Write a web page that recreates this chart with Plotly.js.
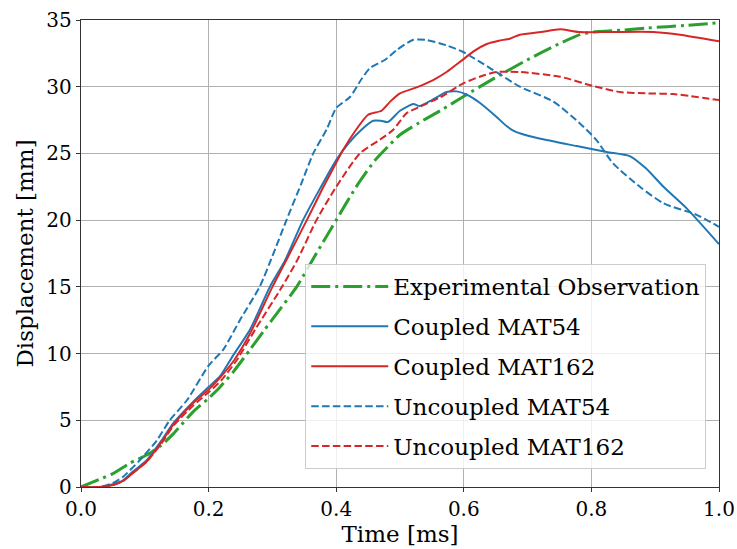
<!DOCTYPE html>
<html>
<head>
<meta charset="utf-8">
<script src="https://cdn.plot.ly/plotly-3.0.1.min.js"></script>
<style>html,body{margin:0;padding:0;background:#fff}#chart{width:737px;height:549px}</style>
</head>
<body>
<div id="chart"></div>
<script>
// Experimental Observation
const expT = [0, 0.03, 0.05, 0.077, 0.103, 0.125, 0.145, 0.176, 0.2, 0.218, 0.239, 0.265, 0.288, 0.31, 0.338, 0.37, 0.4, 0.43, 0.461, 0.485, 0.5, 0.53, 0.563, 0.599, 0.65, 0.699, 0.74, 0.782, 0.803, 0.85, 0.887, 0.95, 1.0];
const expY = [0, 0.6, 1.0, 1.8, 2.4, 3.1, 4.0, 5.65, 6.65, 7.5, 8.65, 10.3, 11.8, 13.2, 15.0, 17.6, 20.0, 22.4, 24.5, 25.7, 26.4, 27.3, 28.2, 29.25, 30.7, 32.0, 33.0, 33.9, 34.1, 34.25, 34.4, 34.6, 34.8];
// Coupled MAT54
const c54T = [0, 0.03, 0.05, 0.066, 0.08, 0.103, 0.125, 0.145, 0.176, 0.2, 0.218, 0.239, 0.265, 0.296, 0.32, 0.348, 0.375, 0.4, 0.42, 0.44, 0.458, 0.47, 0.481, 0.5, 0.521, 0.531, 0.55, 0.573, 0.589, 0.605, 0.625, 0.651, 0.667, 0.68, 0.695, 0.73, 0.777, 0.824, 0.86, 0.885, 0.913, 0.949, 1.0];
const c54Y = [0, 0, 0.2, 0.5, 1.1, 2.0, 3.4, 4.8, 6.4, 7.5, 8.3, 9.9, 11.8, 15.0, 17.0, 20.0, 22.4, 24.5, 25.8, 26.8, 27.45, 27.45, 27.35, 28.2, 28.7, 28.55, 29.0, 29.6, 29.65, 29.4, 28.8, 27.75, 27.05, 26.65, 26.4, 26.0, 25.55, 25.1, 24.8, 23.9, 22.5, 20.9, 18.2];
// Coupled MAT162
const c162T = [0, 0.03, 0.05, 0.066, 0.08, 0.103, 0.125, 0.145, 0.176, 0.2, 0.218, 0.24, 0.265, 0.3, 0.325, 0.354, 0.38, 0.4, 0.41, 0.43, 0.45, 0.471, 0.485, 0.5, 0.526, 0.552, 0.573, 0.599, 0.617, 0.636, 0.655, 0.672, 0.688, 0.721, 0.751, 0.78, 0.832, 0.897, 0.939, 1.0];
const c162Y = [0, 0, 0.15, 0.45, 1.0, 1.9, 3.3, 4.7, 6.3, 7.3, 8.2, 9.5, 11.5, 15.0, 17.3, 20.0, 22.5, 24.3, 25.2, 26.7, 27.9, 28.2, 28.9, 29.5, 29.95, 30.5, 31.1, 32.05, 32.7, 33.2, 33.45, 33.6, 33.9, 34.1, 34.3, 34.1, 34.1, 34.1, 33.9, 33.4];
// Uncoupled MAT54
const u54T = [0, 0.03, 0.05, 0.066, 0.092, 0.119, 0.139, 0.166, 0.2, 0.223, 0.249, 0.28, 0.3, 0.322, 0.345, 0.364, 0.385, 0.4, 0.422, 0.44, 0.453, 0.476, 0.495, 0.52, 0.542, 0.573, 0.599, 0.641, 0.688, 0.74, 0.782, 0.808, 0.834, 0.876, 0.913, 0.965, 1.0];
const u54Y = [0, 0, 0.3, 0.77, 2.0, 3.5, 5.0, 6.5, 9.1, 10.3, 12.5, 15.0, 17.3, 20.0, 22.7, 25.0, 26.8, 28.4, 29.25, 30.6, 31.4, 32.0, 32.75, 33.5, 33.5, 33.1, 32.6, 31.4, 30.0, 28.9, 27.25, 26.0, 24.25, 22.5, 21.26, 20.4, 19.5];
// Uncoupled MAT162
const u162T = [0, 0.03, 0.05, 0.066, 0.08, 0.103, 0.125, 0.145, 0.176, 0.2, 0.22, 0.244, 0.273, 0.315, 0.34, 0.369, 0.4, 0.437, 0.469, 0.489, 0.51, 0.531, 0.563, 0.599, 0.625, 0.651, 0.688, 0.751, 0.803, 0.845, 0.887, 0.928, 1.0];
const u162Y = [0, 0, 0.15, 0.45, 1.0, 1.9, 3.2, 4.6, 6.1, 7.1, 8.0, 9.5, 11.8, 15.0, 17.1, 20.0, 22.5, 25.0, 26.05, 26.75, 28.0, 28.5, 29.2, 30.25, 30.75, 31.1, 31.1, 30.75, 30.05, 29.6, 29.5, 29.45, 29.0];

const seriesNames = ['Experimental Observation', 'Coupled MAT54', 'Coupled MAT162', 'Uncoupled MAT54', 'Uncoupled MAT162'];
const xTickVals = [0, 0.2, 0.4, 0.6, 0.8, 1.0];
const yTickVals = [0, 5, 10, 15, 20, 25, 30, 35];

const FONT = 'DejaVu Serif, Liberation Serif, serif';
const blue = '#1f77b4', red = '#d62728', green = '#2ca02c';

function tr(x, y, name, color, width, dash, i) {
  return {x: x, y: y, name: name, type: 'scatter', mode: 'lines',
    line: {color: color, width: width, dash: dash, shape: 'spline', smoothing: 0.6},
    legendgroup: 'g' + i, hoverinfo: 'skip'};
}

const data = [
  tr(expT, expY, seriesNames[0], green, 3, '19px,5px,3px,5px', 0),
  tr(c54T, c54Y, seriesNames[1], blue, 2, 'solid', 1),
  tr(c162T, c162Y, seriesNames[2], red, 2, 'solid', 2),
  tr(u54T, u54Y, seriesNames[3], blue, 2, '7.5px,3.3px', 3),
  tr(u162T, u162Y, seriesNames[4], red, 2, '7.5px,3.3px', 4)
];

const axisCommon = {
  showgrid: true, gridcolor: '#b0b0b0', gridwidth: 1,
  showline: true, mirror: true, linecolor: '#333', linewidth: 1.2,
  ticks: 'outside', ticklen: 4, tickcolor: '#333', tickwidth: 1,
  zeroline: false, tickfont: {family: FONT, size: 20, color: '#000'}
};

const layout = {
  width: 737, height: 549,
  margin: {l: 81, r: 18, t: 20, b: 62, pad: 0},
  paper_bgcolor: '#fff', plot_bgcolor: '#fff',
  font: {family: FONT, color: '#000'},
  xaxis: Object.assign({}, axisCommon, {
    range: [0, 1], tickvals: xTickVals, ticktext: xTickVals.map(v => v.toFixed(1)),
    title: {text: 'Time [ms]', font: {family: FONT, size: 23, color: '#000'}, standoff: 4}
  }),
  yaxis: Object.assign({}, axisCommon, {
    range: [0, 35], tickvals: yTickVals, ticktext: yTickVals.map(String),
    title: {text: 'Displacement [mm]', font: {family: FONT, size: 23, color: '#000'}, standoff: 6}
  }),
  showlegend: true,
  legend: {
    x: 0.98, xanchor: 'right', y: 0.4775, yanchor: 'top',
    bgcolor: 'rgba(255,255,255,0.8)', bordercolor: '#cccccc', borderwidth: 1,
    font: {family: FONT, size: 23, color: '#000'},
    tracegroupgap: 7, itemwidth: 77
  }
};

Plotly.newPlot('chart', data, layout, {displayModeBar: false, staticPlot: true});
</script>
</body>
</html>
